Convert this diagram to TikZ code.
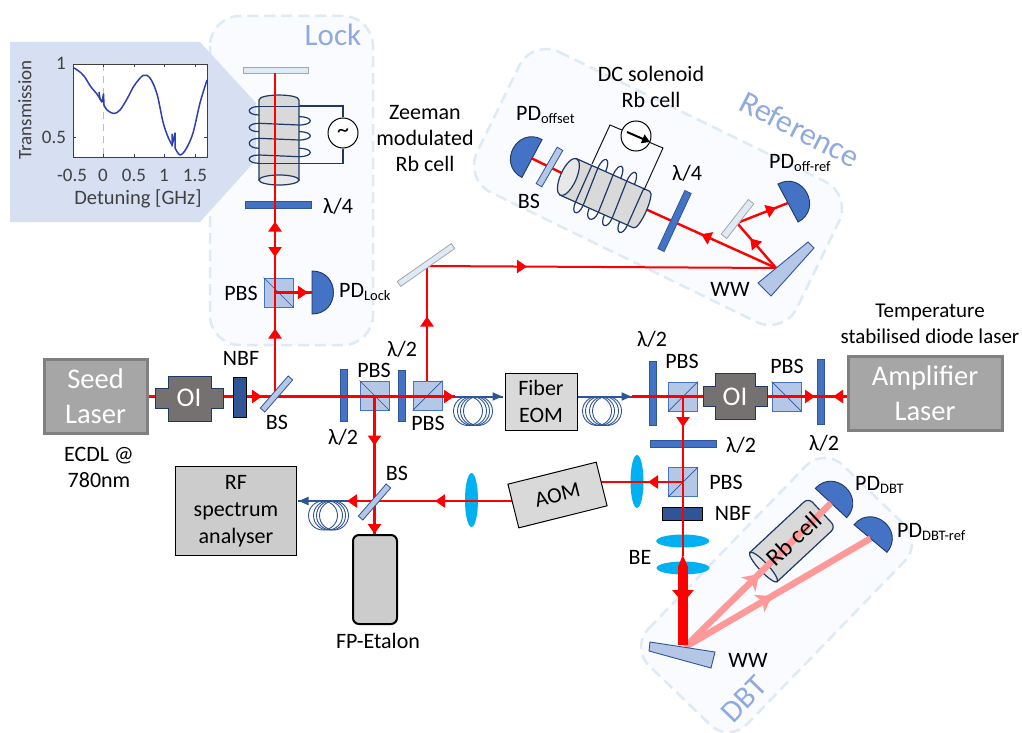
\documentclass[tikz,border=0pt]{standalone}
\usepackage{fontspec}
\setmainfont{Carlito}
\usetikzlibrary{arrows.meta,decorations.markings,shapes.geometric}
\definecolor{boxline}{HTML}{DEEAF6}
\definecolor{boxfill}{HTML}{F9FBFE}
\definecolor{title}{HTML}{8FAADC}
\definecolor{inset}{HTML}{D6E0F2}
\definecolor{plateb}{HTML}{4472C4}
\definecolor{plated}{HTML}{2F5597}
\definecolor{navy}{HTML}{1F3864}
\definecolor{cube}{HTML}{B4C7E7}
\definecolor{lensc}{HTML}{00B0F0}
\definecolor{pinkbeam}{HTML}{FF9999}
\definecolor{cellc}{HTML}{D9D9D9}
\definecolor{ois}{HTML}{767171}
\definecolor{tracec}{HTML}{2E3FB4}
\newcommand{\SubT}[1]{\raisebox{-3.5pt}{\fontsize{14.5}{14.5}\selectfont #1}}
\tikzset{
  zone/.style={draw=boxline,fill=boxfill,line width=2.5pt,dash pattern=on 11pt off 6pt,rounded corners=30pt},
  zonetitle/.style={text=title,inner sep=0pt,font=\fontsize{31}{31}\selectfont},
  lab/.style={inner sep=0pt,font=\fontsize{22}{26}\selectfont,align=center},
  plotlab/.style={inner sep=0pt,text=black!75,font=\fontsize{19}{19}\selectfont},
  plotlabb/.style={inner sep=0pt,text=black!75,font=\fontsize{20.5}{20.5}\selectfont},
  plate/.style={draw=plated,fill=plateb,line width=.8pt,inner sep=0pt,minimum width=#1,minimum height=7pt},
  vplate/.style={plate=#1,rotate=90},
  split/.style={draw=plated,fill=cube,line width=.8pt,inner sep=0pt,minimum height=6pt,minimum width=42.5pt},
  thinmirror/.style={draw=black!35,fill=boxline,line width=.8pt,inner sep=0pt,minimum height=6pt,minimum width=#1},
  cubebox/.style={draw=plateb,fill=cube,line width=.9pt,inner sep=0pt,minimum size=29pt},
  cubeline/.style={draw=plated,line width=.7pt},
  filt/.style={draw=black,fill=plated,line width=1pt,inner sep=0pt},
  lensnode/.style={fill=lensc,ellipse,inner sep=0pt},
  laser/.style={draw=black!50,fill=black!35,line width=3pt,inner sep=0pt,text=white,align=center,font=\fontsize{28.5}{35}\selectfont},
  device/.style={draw=black,fill=cellc,line width=1pt,inner sep=0pt,align=center,font=\fontsize{22}{27}\selectfont},
  isolator/.style={draw=navy,fill=ois,line width=1pt},
  oitext/.style={inner sep=0pt,text=white,font=\fontsize{27}{27}\selectfont},
  beam/.style={draw=red,line width=2.4pt},
  fiber/.style={draw=plated,line width=2pt},
  fibercoil/.style={draw=plated,line width=.9pt},
  wire/.style={draw=black!90,line width=1pt},
  coil/.style={draw=navy,line width=1.2pt},
  pdshape/.style={draw=navy,fill=plateb,line width=.9pt},
  wedge/.style={draw=plated,fill=cube,line width=.9pt},
  tipat/.style={postaction={decorate,decoration={markings,mark=at position #1pt with {\arrow{Triangle[length=10pt,width=13pt]}}}}},
  bigtipat/.style={postaction={decorate,decoration={markings,mark=at position #1pt with {\arrow{Triangle[length=13pt,width=21pt]}}}}},
  pinktipat/.style={postaction={decorate,decoration={markings,mark=at position #1pt with {\arrow{Stealth[length=15pt,width=20pt,inset=4pt]}}}}},
  fibertip/.style={postaction={decorate,decoration={markings,mark=at position #1pt with {\arrow{Triangle[length=10pt,width=8pt]}}}}},
}
% D-shaped photodiode: flat side centred on (x,y), bulge along the rotated +x
\newcommand{\PDshape}[4]{%
  \coordinate (#1) at (#2,#3);
  \begin{scope}[shift={(#2,#3)},rotate=#4]
    \draw[pdshape] (0,-21.5) .. controls (28.5,-21.5) and (28.5,21.5) .. (0,21.5) -- cycle;
  \end{scope}}
% Polarising cube with its diagonal: #4=1 falling, #4=0 rising
\newcommand{\CubeBS}[4]{%
  \node[cubebox] (#1) at (#2,#3) {};
  \ifnum#4=1 \draw[cubeline] (#1.north west) -- (#1.south east);
  \else \draw[cubeline] (#1.south west) -- (#1.north east); \fi}
\newcommand{\EndR}{5}
\newcommand{\CellBody}{%
  \draw[coil,fill=cellc] (-20,0) .. controls (-20,-6.6) and (20,-6.6) .. (20,0) -- (20,80) -- (-20,80) -- cycle;
  \draw[coil,fill=black!9] (0,80) ellipse [x radius=20pt,y radius=\EndR pt];}
\newcommand{\CoilCell}[1]{%
  \begin{scope}[#1]
    \foreach \a/\b in {6.5/15,23.3/31.7,38.3/48.3,55/63.3}
      \draw[coil] (-20,\a) .. controls (-33,\a) and (-33,\b) .. (-20,\b);
    \foreach \a/\b in {16.7/25,31.7/40,48.3/56.7}
      \draw[coil] (20,\a) .. controls (35,\a) and (35,\b) .. (20,\b);
    \CellBody
    \foreach \a/\b in {6.5/6.5,23.3/25,38.3/40,55/56.7,63.3/63.3}
      \draw[coil] (-20,\a) -- (20,\b);
  \end{scope}}
\newcommand{\FiberCoil}[2]{%
  \foreach \c in {#1} \draw[fibercoil] (\c,#2) circle [radius=14.5pt];}
\begin{document}
\begin{tikzpicture}[x=1pt,y=-1pt]
\clip (0,0) rectangle (1022,733);
\fill[white] (0,0) rectangle (1022,733);

% ---------- shaded zones
\draw[zone] (532.3,38.9) -- (852.1,194.7) -- (783.7,335.1) -- (463.9,179.3) -- cycle;
\draw[zone] (210,16) rectangle (373,345);
\draw[zone,rounded corners=26pt] (630.3,647.5) -- (824.1,447.1) -- (922.7,542.5) -- (728.9,742.9) -- cycle;
\node[zonetitle] (tlock) at (333,35) {Lock};
\node[zonetitle,rotate=-27,font=\fontsize{32}{32}\selectfont] (tref) at (800,129) {Reference};
\node[zonetitle,rotate=46] (tdbt) at (744,699) {DBT};

% ---------- inset with the transmission plot
\fill[inset] (10,42) -- (200,42) -- (256,103) -- (256,160) -- (200,222) -- (10,222) -- cycle;
\node[draw=black!75,fill=white,line width=.9pt,inner sep=0pt,minimum width=134pt,minimum height=93pt] (axes) at (140,110.5) {};
\coordinate (zeroT) at (103.5,64);
\coordinate (zeroB) at (103.5,157);
\draw[black!25,line width=1.3pt,dash pattern=on 7pt off 5pt] (zeroT) -- (zeroB);
\foreach \t in {103.5,134,164,195}{
  \draw[black!75,line width=.7pt] (\t,157) -- (\t,154);
  \draw[black!75,line width=.7pt] (\t,64) -- (\t,67);}
\draw[black!75,line width=.7pt] (73,137) -- (76,137);
\draw[black!75,line width=.7pt] (207,137) -- (204,137);
\draw[tracec,line width=1.5pt,line join=round] plot[smooth,tension=.55] coordinates {
 (73,67.5) (78,70.5) (84,76) (91,87) (97,94) (100,99) (102,102)};
\draw[tracec,line width=1.5pt,line join=round] (99,92) -- (100,99) -- (102,102) -- (103.5,94) -- (104,105);
\draw[tracec,line width=1.5pt,line join=round] plot[smooth,tension=.55] coordinates {
 (104,105) (107,110) (114,113.5) (120,110) (127,99) (134,86) (143,75.5) (150,78) (157,94) (163,122) (168,137) (172,145)};
\draw[tracec,line width=1.5pt,line join=round] (172,134) -- (172,146) -- (175,133) -- (175,148);
\draw[tracec,line width=1.5pt,line join=round] plot[smooth,tension=.55] coordinates {
 (175,148) (180,155) (186,149) (193,133) (200,103) (207,80)};
\node[plotlab,rotate=90] (ylab) at (25,110) {Transmission};
\node[plotlab] (y1) at (61,63) {1};
\node[plotlab] (y05) at (54,137) {0.5};
\node[plotlab] (xm) at (72,175) {-0.5};
\node[plotlab] (x0) at (103,175) {0};
\node[plotlab] (x05) at (134,175) {0.5};
\node[plotlab] (x1) at (164,175) {1};
\node[plotlab] (x15) at (195,175) {1.5};
\node[plotlabb] (xlab) at (138,199) {Detuning [GHz]};

% ---------- beam coordinates
\coordinate (seedOut) at (148,396.5);
\coordinate (fibIn) at (455,396.5);
\coordinate (fibOut) at (503,396.5);
\coordinate (bsLock) at (275,396.5);
\coordinate (bsCube) at (275,292.5);
\coordinate (mirTop) at (275,73);
\coordinate (pickUp) at (427,396.5);
\coordinate (pickTop) at (427,266);
\coordinate (wwRef) at (776,268);
\coordinate (refCell) at (642,207.5);
\coordinate (refCellB) at (568,176);
\coordinate (smallMir) at (737,223);
\coordinate (eomAfter) at (577,396.5);
\coordinate (eomOut) at (632,396.5);
\coordinate (isoIn) at (703,396.5);
\coordinate (isoOut) at (767,396.5);
\coordinate (plateMid) at (821,396.5);
\coordinate (ampOut) at (848,396.5);
\coordinate (ampDown) at (683,396.5);
\coordinate (beIn) at (683,556);
\coordinate (aomIn) at (601,482);
\coordinate (cubeSide) at (683,482);
\coordinate (aomOut) at (513,501);
\coordinate (bsLow) at (347,501);
\coordinate (rfIn) at (298,501);
\coordinate (cubeDown) at (374.5,396.5);
\coordinate (etalonTop) at (374.5,534);
\coordinate (wwDbt) at (685,647);
\coordinate (thickTop) at (683,566);
\coordinate (thickEnd) at (683,645);

% ---------- reference arm, behind its optics
\PDshape{pdoff}{532}{158.5}{152}
\PDshape{pdref}{788}{203}{28}
\draw[beam,tipat=80] (pickUp) -- (pickTop);
\draw[beam,line width=2pt,tipat=100] (pickTop) -- (wwRef);
\draw[beam,tipat=82] (wwRef) -- (refCell);
\draw[beam] (refCellB) -- (pdoff);
\draw[beam,tipat=39] (wwRef) -- (smallMir);
\draw[beam,tipat=42] (smallMir) -- (pdref);
\node[split,minimum width=42pt,rotate=60,minimum height=6.5pt] (bsoff) at (549.5,167) {};
\node[plate=64pt,rotate=65] (qwref) at (674.5,221) {};
\node[thinmirror=44pt,rotate=52,minimum height=7pt] (smallmirror) at (737.5,219) {};
\node[thinmirror=66pt,rotate=35] (refmirror) at (426,265) {};
\draw[wedge] (758,283) -- (808,242) -- (814,248) -- (771,296) -- cycle;

% ---------- coil cells
\node[circle,draw=black,fill=white,line width=1pt,minimum size=30pt,inner sep=0pt,font=\fontsize{24}{24}\selectfont] (ac) at (343,133) {\textasciitilde};
\coordinate (acA) at (343,106);
\coordinate (acB) at (343,163.5);
\coordinate (cellA) at (299,106);
\coordinate (cellB) at (299,163.5);
\draw[coil] (ac.north) -- (acA) -- (cellA);
\draw[coil] (ac.south) -- (acB) -- (cellB);
\CoilCell{shift={(279,100)}}

\node[circle,draw=black,fill=white,line width=1pt,minimum size=30pt,inner sep=0pt] (meter) at (636,136) {};
\coordinate (mA) at (610,125);
\coordinate (mB) at (663,148);
\coordinate (mC) at (592,164);
\coordinate (mD) at (644,190);
{\renewcommand{\EndR}{8}\CoilCell{shift={(641.5,209.5)},rotate=-114,xscale=-1}}
\draw[wire] (meter.157) -- (mA) -- (mC);
\draw[wire] (meter.-25) -- (mB) -- (mD);
\coordinate (needleA) at (627,132);
\coordinate (needleB) at (650,142);
\draw[black,line width=2pt,-{Triangle[length=8pt,width=9pt]}] (needleA) -- (needleB);

% ---------- lenses, plates, cubes (beams run over them)
\node[lensnode,minimum width=13pt,minimum height=53pt] (lensA) at (637,481.5) {};
\node[lensnode,minimum width=13pt,minimum height=54pt] (lensB) at (471.5,500) {};
\node[lensnode,minimum width=53pt,minimum height=13pt] (beA) at (682.7,541) {};
\node[lensnode,minimum width=53pt,minimum height=13pt] (beB) at (683,568) {};
\node[thinmirror=65pt] (lockmirror) at (275.5,70) {};
\node[plate=66pt] (qwlock) at (278,204.5) {};
\node[vplate=52pt] (hwa) at (343.5,395) {};
\node[vplate=51pt] (hwb) at (401.5,395.5) {};
\node[vplate=64pt] (hwc) at (652.5,393) {};
\node[vplate=65pt] (hwd) at (821,391.5) {};
\node[plate=66pt] (hwe) at (683,443.5) {};
\node[filt,minimum width=40pt,minimum height=13.5pt] (nbfb) at (682.7,514) {};
\CubeBS{pbslock}{278.5}{292.5}{1}
\CubeBS{pbsa}{374.5}{395.5}{1}
\CubeBS{pbsb}{427.5}{395.5}{0}
\CubeBS{pbsc}{683}{396.5}{0}
\CubeBS{pbsd}{786.5}{396.5}{1}
\CubeBS{pbse}{683}{482}{0}

% ---------- photodiodes of the lock and DBT arms
\PDshape{pdlock}{312}{292.5}{0}
\PDshape{pddbt}{831}{503}{47}
\PDshape{pddbtref}{870.5}{538.5}{50}

% ---------- DBT arm: cell first, the beams run over it, its label on top
\begin{scope}[shift={(822,512.5)},rotate=-47]
  \draw[coil,fill=cellc] (-20,80) [rounded corners=6pt] -- (-20,0) -- (20,0) [sharp corners] -- (20,80) -- cycle;
  \draw[coil,fill=black!9] (0,80) ellipse [x radius=20pt,y radius=4.5pt];
\end{scope}
\draw[pinkbeam,line width=6.5pt,pinktipat=104] (wwDbt) -- (pddbt);
\draw[pinkbeam,line width=6.5pt,pinktipat=101] (wwDbt) -- (pddbtref);
\node[lab,rotate=43,font=\fontsize{24.5}{24.5}\selectfont] (rbdbt) at (794,539) {Rb cell};

% ---------- main beams
\draw[beam,tipat=68,tipat=175] (bsLock) -- (mirTop);
\draw[beam,tipat=184] (mirTop) -- (bsCube);
\draw[beam,tipat=33] (bsCube) -- (pdlock);
\draw[beam,tipat=114,tipat=306] (seedOut) -- (fibIn);
\draw[beam,tipat=49,tipat=137.5] (cubeDown) -- (etalonTop);
\draw[beam] (eomOut) -- (isoIn);
\draw[beam,tipat=48] (isoOut) -- (plateMid);
\draw[beam,tipat=15] (ampOut) -- (plateMid);
\draw[beam,tipat=30.5] (ampDown) -- (beIn);
\draw[beam,tipat=35] (cubeSide) -- (aomIn);
\draw[beam,tipat=78,tipat=166] (aomOut) -- (bsLow);
\fill[red] (682.7,555) -- (688,567) -- (678,567) -- cycle;
\draw[red,line width=10pt,bigtipat=37] (thickTop) -- (thickEnd);

% ---------- fibres
\FiberCoil{468,472,475,478}{411}
\FiberCoil{597,600,604,607}{411}
\FiberCoil{323,328,331,334}{515.5}
\draw[fiber,fibertip=47.5] (fibIn) -- (fibOut);
\draw[fiber,fibertip=54.5] (eomAfter) -- (eomOut);
\draw[fiber,fibertip=48.5] (bsLow) -- (rfIn);

% ---------- parts that hide the beams
\node[laser,minimum width=103pt,minimum height=74pt] (seed) at (95.5,396) {Seed\\Laser};
\node[laser,minimum width=154pt,minimum height=74pt] (amp) at (925,393) {Amplifier\\Laser};
\draw[isolator] (155,388) -- (168,388) -- (168,376) -- (211,376) -- (211,388) -- (223,388) -- (223,408) -- (211,408) -- (211,421) -- (168,421) -- (168,408) -- (155,408) -- cycle;
\node[oitext] (oia) at (189,398) {OI};
\draw[isolator] (703,386) -- (715.5,386) -- (715.5,373) -- (755,373) -- (755,386) -- (767,386) -- (767,406) -- (755,406) -- (755,419) -- (715.5,419) -- (715.5,406) -- (703,406) -- cycle;
\node[oitext] (oib) at (735,397) {OI};
\node[filt,minimum width=13pt,minimum height=40pt] (nbfa) at (239.5,397) {};
\node[split,rotate=49] (bsa) at (276.5,394) {};
\node[split,rotate=49] (bsb) at (374.5,502) {};
\node[device,minimum width=72pt,minimum height=57pt] (eom) at (541,401.5) {Fiber\\EOM};
\node[device,minimum width=91pt,minimum height=45pt,rotate=14,font=\fontsize{22}{22}\selectfont] (aom) at (557.5,495) {AOM};
\node[device,fill=black!20,minimum width=121pt,minimum height=89pt] (rf) at (236,511) {RF\\spectrum\\analyser};
\node[draw=black,fill=black!20,line width=2pt,rounded corners=6pt,minimum width=44pt,minimum height=89pt,inner sep=0pt] (etalon) at (375,579.5) {};
\draw[wedge] (650,642) -- (715,652) -- (711,668) -- (649,651) -- cycle;

% ---------- labels
\node[lab] (l1) at (338,206) {λ/4};
\node[lab] (l2) at (241,293) {PBS};
\node[lab,anchor=west] (l3) at (339,292) {PD\SubT{Lock}};
\node[lab] (l4) at (425,139) {Zeeman\\modulated\\Rb cell};
\node[lab] (l5) at (651,86.5) {DC solenoid\\Rb cell};
\node[lab,anchor=west] (l6) at (516,115) {PD\SubT{offset}};
\node[lab] (l7) at (529,201) {BS};
\node[lab] (l8) at (687,173) {λ/4};
\node[lab,anchor=west] (l9) at (769,163) {PD\SubT{off-ref}};
\node[lab] (l10) at (730,289) {WW};
\node[lab] (l11) at (241,358) {NBF};
\node[lab] (l12) at (277,422) {BS};
\node[lab] (l13) at (343,437) {λ/2};
\node[lab] (l14) at (374,370) {PBS};
\node[lab] (l15) at (402,349) {λ/2};
\node[lab] (l16) at (428,423) {PBS};
\node[lab] (l17) at (652,339) {λ/2};
\node[lab] (l18) at (682,361) {PBS};
\node[lab] (l19) at (787,366) {PBS};
\node[lab] (l20) at (824,443) {λ/2};
\node[lab] (l21) at (741,445) {λ/2};
\node[lab] (l22) at (726,482) {PBS};
\node[lab] (l23) at (733,513) {NBF};
\node[lab] (l24) at (640,557) {BE};
\node[lab] (l25) at (748,660) {WW};
\node[lab,anchor=west] (l26) at (855,485) {PD\SubT{DBT}};
\node[lab,anchor=west] (l27) at (897,532) {PD\SubT{DBT-ref}};
\node[lab] (l28) at (397,473) {BS};
\node[lab] (l29) at (378,641) {FP-Etalon};
\node[lab] (l30) at (99,467) {ECDL @\\780nm};
\node[lab,font=\fontsize{21}{26}\selectfont] (l31) at (930,324) {Temperature\\stabilised diode laser};
\end{tikzpicture}
\end{document}
